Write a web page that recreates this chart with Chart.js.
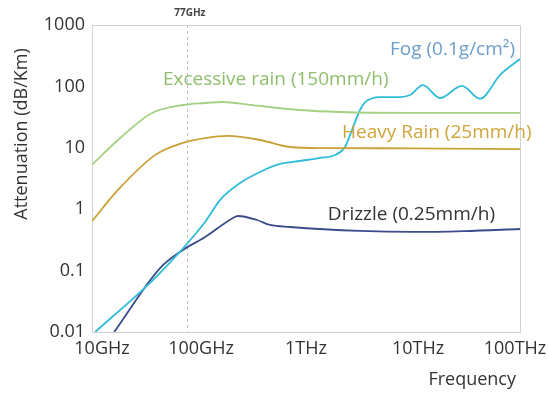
<!DOCTYPE html>
<html>
<head>
<meta charset="utf-8">
<script src="https://cdn.jsdelivr.net/npm/chart.js@4/dist/chart.umd.min.js"></script>
<style>
  html, body { margin: 0; padding: 0; background: #ffffff; }
  #wrap { width: 548px; height: 394px; position: relative; }
</style>
</head>
<body>
<div id="wrap"><canvas id="c" width="548" height="394"></canvas></div>
<script>
// Frequencies in GHz, attenuation in dB/km
const excessiveFreq = [10, 17.5, 36.4, 70.8, 114, 168, 300, 880, 2080, 10000, 100000];
const excessiveVals = [5.3, 13.4, 36.9, 49.8, 53.7, 55.7, 50, 41.3, 38.3, 37, 37];

const heavyFreq = [10, 17.5, 38.8, 70.8, 114, 187, 372, 708, 1500, 10000, 100000];
const heavyVals = [0.64, 2.06, 7.6, 12.0, 14.4, 15.6, 13.4, 10.3, 9.9, 9.8, 9.5];

const fogFreq = [10.7, 40, 114, 157, 242, 372, 572, 879, 1352, 1868, 2314, 2690, 3197, 3560, 4918, 7563, 9380, 12400, 17870, 28700, 42300, 65000, 100000];
const fogVals = [0.01, 0.08, 0.62, 1.41, 2.67, 4.04, 5.45, 6.1, 6.83, 7.63, 10.3, 19.5, 41.3, 55, 67.1, 67.1, 72.4, 105, 64.7, 102, 63, 153, 279];

const drizzleFreq = [16.1, 43.3, 70.8, 114, 208, 231, 348, 461, 708, 3197, 10000, 30000, 100000];
const drizzleVals = [0.01, 0.11, 0.217, 0.352, 0.72, 0.775, 0.667, 0.553, 0.513, 0.442, 0.426, 0.44, 0.476];

const xTickVals = [10, 100, 1000, 10000, 100000];
const xTickLabels = ['10GHz', '100GHz', '1THz', '10THz', '100THz'];
const xTickNudge = [10, 2, 0, 5, -5];   // small horizontal offsets of the tick captions
const yTickVals = [0.01, 0.1, 1, 10, 100, 1000];
const yTickLabels = ['0.01', '0.1', '1', '10', '100', '1000'];

const markerFreq = 77;
const markerLabel = '77GHz';

const FONT = '"Open Sans", "Liberation Sans", sans-serif';

function pts(xs, ys) { return xs.map((x, i) => ({ x: x, y: ys[i] })); }

// Series name labels, anchored at data coordinates (left edge of the text)
const seriesLabels = [
  { text: 'Excessive rain (150mm/h)', f: 46, v: 127, color: '#8dbf6b', size: 19 },
  { text: 'Fog (0.1g/cm²)', f: 6100, v: 392, color: '#6b9dcc', size: 19 },
  { text: 'Heavy Rain (25mm/h)', f: 2170, v: 17.4, color: '#cfa43a', size: 19 },
  { text: 'Drizzle (0.25mm/h)', f: 1600, v: 0.805, color: '#333333', size: 19 }
];

const overlay = {
  id: 'overlay',
  beforeDraw(chart) {
    // shift the x tick captions slightly
    const sx = chart.scales.x;
    const items = sx.getLabelItems(chart.chartArea);
    items.forEach((it, i) => {
      if (!it.options._nudged) {
        it.options.translation = [it.options.translation[0] + (xTickNudge[i] || 0), it.options.translation[1]];
        it.options._nudged = true;
      }
    });
  },
  beforeDatasetsDraw(chart) {
    const { ctx, chartArea, scales } = chart;
    const x = scales.x.getPixelForValue(markerFreq);
    ctx.save();
    ctx.strokeStyle = '#b9c2c8';
    ctx.lineWidth = 1;
    ctx.setLineDash([3, 3]);
    ctx.beginPath();
    ctx.moveTo(Math.round(x) + 0.5, chartArea.top);
    ctx.lineTo(Math.round(x) + 0.5, chartArea.bottom);
    ctx.stroke();
    ctx.restore();
  },
  afterDraw(chart) {
    const { ctx, chartArea, scales } = chart;
    ctx.save();
    // marker caption
    const mx = scales.x.getPixelForValue(markerFreq);
    ctx.font = 'bold 10px ' + FONT;
    ctx.fillStyle = '#444444';
    ctx.textAlign = 'center';
    ctx.textBaseline = 'middle';
    ctx.fillText(markerLabel, mx + 3, 13);

    // series labels
    ctx.textAlign = 'left';
    seriesLabels.forEach(l => {
      ctx.font = l.size + 'px ' + FONT;
      ctx.fillStyle = l.color;
      ctx.fillText(l.text, scales.x.getPixelForValue(l.f), scales.y.getPixelForValue(l.v));
    });

    // axis titles
    ctx.font = '18px ' + FONT;
    ctx.fillStyle = '#333333';
    ctx.textAlign = 'right';
    ctx.fillText('Frequency', chartArea.right - 4, 380);
    ctx.translate(22, 134);
    ctx.rotate(-Math.PI / 2);
    ctx.textAlign = 'center';
    ctx.fillText('Attenuation (dB/Km)', 0, 0);
    ctx.restore();
  }
};

const lineStyle = { borderWidth: 1.8, pointRadius: 0, fill: false, cubicInterpolationMode: 'monotone' };

new Chart(document.getElementById('c'), {
  type: 'line',
  data: {
    datasets: [
      Object.assign({ label: 'Excessive rain (150mm/h)', data: pts(excessiveFreq, excessiveVals), borderColor: '#a3d282' }, lineStyle),
      Object.assign({ label: 'Heavy Rain (25mm/h)', data: pts(heavyFreq, heavyVals), borderColor: '#c9a136' }, lineStyle),
      Object.assign({ label: 'Fog (0.1g/cm²)', data: pts(fogFreq, fogVals), borderColor: '#2fbcd8' }, lineStyle),
      Object.assign({ label: 'Drizzle (0.25mm/h)', data: pts(drizzleFreq, drizzleVals), borderColor: '#3c4b8c' }, lineStyle)
    ]
  },
  options: {
    responsive: false,
    animation: false,
    layout: { padding: { left: 0, right: 28, top: 25, bottom: 0 } },
    plugins: { legend: { display: false }, tooltip: { enabled: false } },
    scales: {
      x: {
        type: 'logarithmic',
        min: 10,
        max: 100000,
        grid: { display: false, drawTicks: false },
        border: { display: true, color: '#cfd3d6', width: 1 },
        afterBuildTicks: s => { s.ticks = xTickVals.map(v => ({ value: v })); },
        afterFit: s => { s.height = 62; s.paddingLeft = 0; s.paddingRight = 0; },
        ticks: {
          autoSkip: false,
          maxRotation: 0,
          padding: 6,
          color: '#333333',
          font: { family: FONT, size: 18 },
          callback: (v) => { const i = xTickVals.indexOf(v); return i >= 0 ? xTickLabels[i] : ''; }
        }
      },
      y: {
        type: 'logarithmic',
        min: 0.01,
        max: 1000,
        grid: { display: false, drawTicks: false },
        border: { display: true, color: '#cfd3d6', width: 1 },
        afterBuildTicks: s => { s.ticks = yTickVals.map(v => ({ value: v })); },
        afterFit: s => { s.width = 92; s.paddingTop = 0; s.paddingBottom = 0; },
        ticks: {
          autoSkip: false,
          padding: 7,
          color: '#333333',
          font: { family: FONT, size: 18 },
          callback: (v) => { const i = yTickVals.indexOf(v); return i >= 0 ? yTickLabels[i] : ''; }
        }
      }
    }
  },
  plugins: [overlay, {
    id: 'frame',
    afterDatasetsDraw(chart) {
      const { ctx, chartArea } = chart;
      ctx.save();
      ctx.strokeStyle = '#cfd3d6';
      ctx.lineWidth = 1;
      ctx.beginPath();
      ctx.moveTo(chartArea.left, chartArea.top + 0.5);
      ctx.lineTo(chartArea.right + 0.5, chartArea.top + 0.5);
      ctx.lineTo(chartArea.right + 0.5, chartArea.bottom);
      ctx.stroke();
      ctx.restore();
    }
  }]
});
</script>
</body>
</html>
